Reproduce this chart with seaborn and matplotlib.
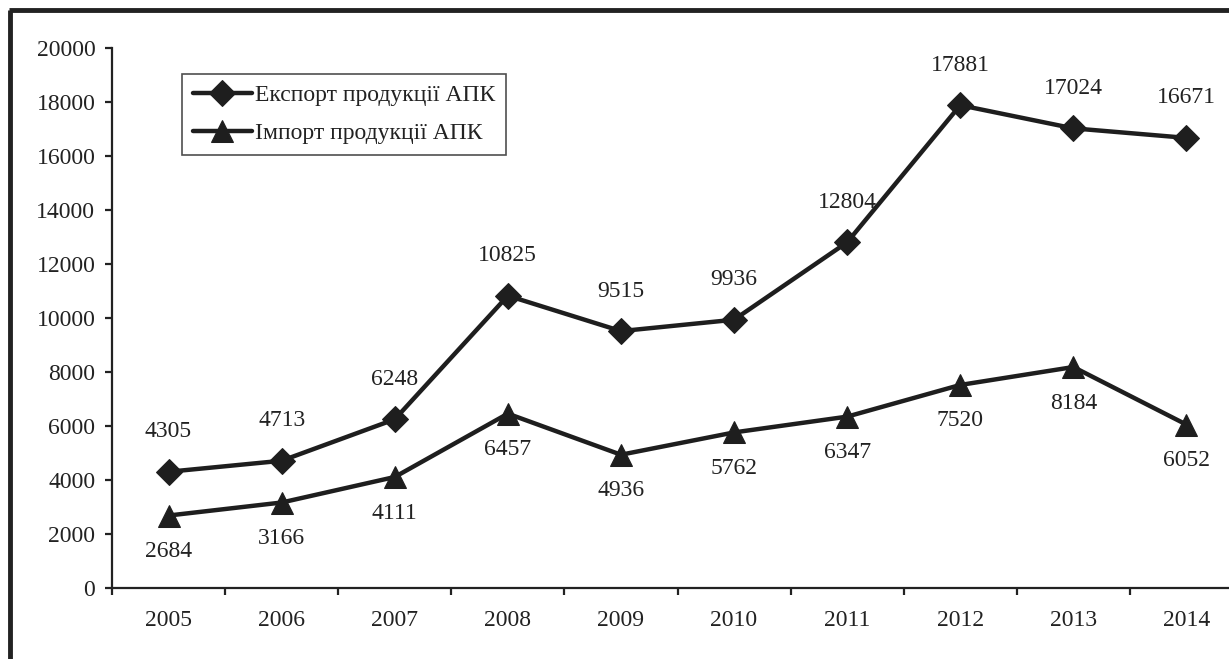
import matplotlib
matplotlib.use("Agg")
import matplotlib.pyplot as plt
import seaborn as sns
import pandas as pd
import numpy as np
from matplotlib.lines import Line2D

years = ["2005", "2006", "2007", "2008", "2009", "2010", "2011", "2012", "2013", "2014"]
export_vals = [4305, 4713, 6248, 10825, 9515, 9936, 12804, 17881, 17024, 16671]
import_vals = [2684, 3166, 4111, 6457, 4936, 5762, 6347, 7520, 8184, 6052]
export_name = "Експорт продукції АПК"
import_name = "Імпорт продукції АПК"

sns.set_theme(style="white")
plt.rcParams["font.family"] = ["Liberation Serif", "DejaVu Serif"]

W, H = 1229, 659
fig = plt.figure(figsize=(W / 100, H / 100), dpi=100)
ax_left, ax_right, ax_bottom, ax_top = 112, 1243, 588, 48
ax = fig.add_axes([ax_left / W, 1 - ax_bottom / H, (ax_right - ax_left) / W, (ax_bottom - ax_top) / H])

ink = "#1e1e1e"
df = pd.DataFrame({"pos": np.arange(len(years)), "exp": export_vals, "imp": import_vals})
sns.lineplot(data=df, x="pos", y="exp", ax=ax, color=ink, lw=3.2, marker="D",
             markersize=13, markeredgecolor=ink, label=export_name)
sns.lineplot(data=df, x="pos", y="imp", ax=ax, color=ink, lw=3.2, marker="^",
             markersize=16, markeredgecolor=ink, label=import_name)

fs = 17
for i, v in enumerate(export_vals):
    ax.annotate(str(v), (i, v), xytext=(0, 40), textcoords="offset pixels",
                ha="center", va="center", fontsize=fs, color="#222222")
for i, v in enumerate(import_vals):
    ax.annotate(str(v), (i, v), xytext=(0, -36), textcoords="offset pixels",
                ha="center", va="center", fontsize=fs, color="#222222")

ax.set_xlim(-0.5, len(years) - 0.5)
ax.set_ylim(0, 20000)
yt = np.arange(0, 20001, 2000)
ax.set_yticks(yt)
ax.set_yticklabels([str(int(t)) for t in yt], fontsize=fs, color="#222222")
ax.set_xticks(np.arange(len(years)))
ax.set_xticklabels(years, fontsize=fs, color="#222222")
ax.set_xticks(np.arange(-0.5, len(years), 1), minor=True)
ax.tick_params(axis="x", which="major", length=0, pad=16, bottom=False)
ax.tick_params(axis="x", which="minor", length=5, width=1.6, color="#222222", direction="out", bottom=True)
ax.tick_params(axis="y", which="major", length=5, width=1.6, color="#222222", direction="out", pad=7, left=True)
for s in ["top", "right"]:
    ax.spines[s].set_visible(False)
for s in ["left", "bottom"]:
    ax.spines[s].set_color("#222222")
    ax.spines[s].set_linewidth(1.6)
ax.set_xlabel("")
ax.set_ylabel("")
ax.grid(False)

leg = ax.legend(loc="upper left",
                bbox_to_anchor=((182 - ax_left) / (ax_right - ax_left), (ax_bottom - 74) / (ax_bottom - ax_top)),
                frameon=True, fancybox=False, fontsize=fs, handlelength=2.5, handletextpad=0.15,
                borderpad=0.45, labelspacing=0.7, borderaxespad=0)
leg.get_frame().set_edgecolor("#222222")
leg.get_frame().set_linewidth(1.2)
for t in leg.get_texts():
    t.set_color("#222222")

# outer frame (top and left visible, rest cut off)
fig.add_artist(Line2D([10 / W, 10 / W], [0, 1 - 10 / H], transform=fig.transFigure, color="#222222", lw=3.5,
                      solid_capstyle="butt"))
fig.add_artist(Line2D([8.7 / W, 1], [1 - 10 / H, 1 - 10 / H], transform=fig.transFigure, color="#222222", lw=3.5,
                      solid_capstyle="butt"))

fig.savefig("out.png", dpi=100)
